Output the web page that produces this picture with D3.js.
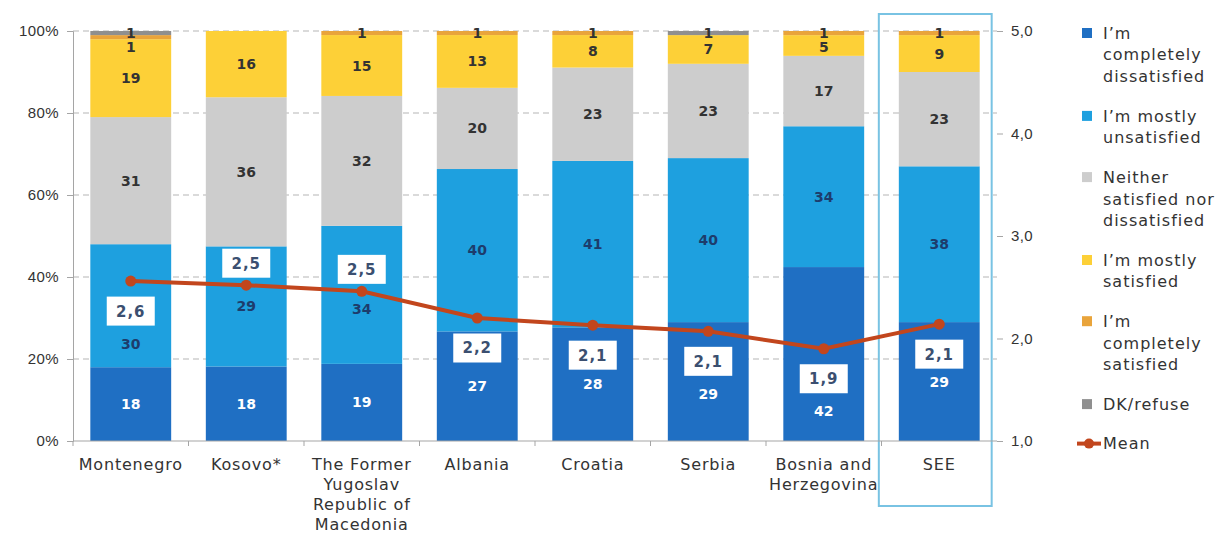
<!DOCTYPE html>
<meta charset="utf-8">
<style>
  body { margin: 0; background: #fff; }
  svg { font-family: "DejaVu Sans", sans-serif; }
  .tick text { fill: #333; font-size: 15px; letter-spacing: 0.4px; }
  .axis path, .axis line { stroke: #a5a5a5; }
  .grid line { stroke: #b5b5b5; stroke-dasharray: 6 4; }
  .seg-label { font-size: 14px; font-weight: bold; }
  .cat-label { fill: #333; font-size: 16px; letter-spacing: 0.8px; }
  .legend text { fill: #333; font-size: 16px; letter-spacing: 1px; }
  .mean-label { fill: #3b4f70; font-size: 15px; font-weight: bold; letter-spacing: 1px; }
</style>
<body>
<div id="chart"></div>
<script src="https://d3js.org/d3.v7.min.js"></script>
<script>
  // data (percentages, rounded as printed)
  var categories = ["Montenegro", "Kosovo*", "The Former\nYugoslav\nRepublic of\nMacedonia",
    "Albania", "Croatia", "Serbia", "Bosnia and\nHerzegovina", "SEE"];

  var seriesNames = ["I’m\ncompletely\ndissatisfied", "I’m mostly\nunsatisfied",
    "Neither\nsatisfied nor\ndissatisfied", "I’m mostly\nsatisfied",
    "I’m\ncompletely\nsatisfied", "DK/refuse"];

  var completelyDissatisfied = [18, 18, 19, 27, 28, 29, 42, 29];
  var mostlyUnsatisfied      = [30, 29, 34, 40, 41, 40, 34, 38];
  var neither                = [31, 36, 32, 20, 23, 23, 17, 23];
  var mostlySatisfied        = [19, 16, 15, 13, 8, 7, 5, 9];
  var completelySatisfied    = [1, 0, 1, 1, 1, 0, 1, 1];
  var dkRefuse               = [1, 0, 0, 0, 0, 1, 0, 0];

  var meanValues = [2.56, 2.52, 2.46, 2.2, 2.13, 2.07, 1.9, 2.14];
  var meanLabelSide = ["below", "above", "above", "below", "below", "below", "below", "below"];

  var leftTicks = [0, 0.2, 0.4, 0.6, 0.8, 1];
  var rightTicks = [1, 2, 3, 4, 5];

  var colors = ["#1f6fc3", "#1ea0df", "#cdcdcd", "#fdd037", "#e9a43b", "#8f8f8f"];
  var labelColors = ["#ffffff", "#1d3c6c", "#333333", "#333333", "#333333", "#333333"];
  var meanColor = "#c2461d";

  var seriesValues = [completelyDissatisfied, mostlyUnsatisfied, neither,
    mostlySatisfied, completelySatisfied, dkRefuse];

  // build rows for d3.stack
  var rows = categories.map(function(c, i) {
    var r = { cat: c };
    seriesValues.forEach(function(s, k) { r["s" + k] = s[i]; });
    return r;
  });
  var keys = seriesValues.map(function(s, k) { return "s" + k; });

  var width = 1218, height = 536;
  var plot = { left: 73, right: 997, top: 31, bottom: 441 };

  var svg = d3.select("#chart").append("svg")
    .attr("width", width)
    .attr("height", height);

  var x = d3.scaleBand()
    .domain(categories)
    .range([plot.left, plot.right])
    .paddingInner(0.3)
    .paddingOuter(0.15);

  var y = d3.scaleLinear().domain([0, 1]).range([plot.bottom, plot.top]);
  var yMean = d3.scaleLinear().domain([1, 5]).range([plot.bottom, plot.top]);

  var comma = d3.formatLocale({ decimal: ",", thousands: ".", grouping: [3], currency: ["", ""] });
  var fmt1 = comma.format(".1f");

  // gridlines
  svg.append("g").attr("class", "grid")
    .selectAll("line")
    .data(leftTicks.filter(function(d) { return d > 0; }))
    .join("line")
    .attr("x1", plot.left).attr("x2", plot.right)
    .attr("y1", function(d) { return y(d); })
    .attr("y2", function(d) { return y(d); });

  // stacked bars, normalised to 100%
  var stack = d3.stack().keys(keys).offset(d3.stackOffsetExpand);
  var stacked = stack(rows);

  var layers = svg.append("g").selectAll("g")
    .data(stacked)
    .join("g")
    .attr("fill", function(d, i) { return colors[i]; });

  layers.selectAll("rect")
    .data(function(d) { return d; })
    .join("rect")
    .attr("x", function(d) { return x(d.data.cat); })
    .attr("y", function(d) { return y(d[1]); })
    .attr("height", function(d) { return y(d[0]) - y(d[1]); })
    .attr("width", x.bandwidth());

  // highlight box around SEE
  var xs = x("SEE");
  svg.append("rect")
    .attr("x", xs - 20)
    .attr("y", 14)
    .attr("width", x.bandwidth() + 32)
    .attr("height", 492)
    .attr("fill", "none")
    .attr("stroke", "#79c3e3")
    .attr("stroke-width", 2);

  // left axis
  svg.append("g")
    .attr("class", "axis")
    .attr("transform", "translate(" + plot.left + ",0)")
    .call(d3.axisLeft(y).tickValues(leftTicks).tickSize(6).tickPadding(8)
      .tickFormat(function(d) { return Math.round(d * 100) + "%"; }));

  // right axis (mean)
  var ra = svg.append("g")
    .attr("class", "axis")
    .attr("transform", "translate(" + plot.right + ",0)")
    .call(d3.axisRight(yMean).tickValues(rightTicks).tickSize(6).tickPadding(8).tickFormat(fmt1));
  ra.select(".domain").remove();

  // x axis: line, ticks between categories, wrapped labels
  var xa = svg.append("g").attr("class", "axis");
  xa.append("line")
    .attr("x1", plot.left).attr("x2", plot.right)
    .attr("y1", plot.bottom).attr("y2", plot.bottom);
  xa.selectAll(".bnd")
    .data(d3.range(categories.length))
    .join("line")
    .attr("class", "bnd")
    .attr("x1", function(i) { return x(categories[i]) - x.step() * x.paddingInner() / 2; })
    .attr("x2", function(i) { return x(categories[i]) - x.step() * x.paddingInner() / 2; })
    .attr("y1", plot.bottom).attr("y2", plot.bottom + 5);

  svg.append("g").selectAll("text")
    .data(categories)
    .join("text")
    .attr("class", "cat-label")
    .attr("text-anchor", "middle")
    .attr("transform", function(d) { return "translate(" + (x(d) + x.bandwidth() / 2) + "," + 470 + ")"; })
    .selectAll("tspan")
    .data(function(d) { return d.split("\n"); })
    .join("tspan")
    .attr("x", 0)
    .attr("y", function(d, i) { return i * 20; })
    .text(function(d) { return d; });

  // mean line
  var cx = function(i) { return x(categories[i]) + x.bandwidth() / 2; };
  var line = d3.line()
    .x(function(d, i) { return cx(i); })
    .y(function(d) { return yMean(d); });

  svg.append("path")
    .datum(meanValues)
    .attr("fill", "none")
    .attr("stroke", meanColor)
    .attr("stroke-width", 4)
    .attr("d", line);

  svg.append("g").selectAll("circle")
    .data(meanValues)
    .join("circle")
    .attr("cx", function(d, i) { return cx(i); })
    .attr("cy", function(d) { return yMean(d); })
    .attr("r", 5.5)
    .attr("fill", meanColor);

  // mean label boxes
  var boxW = 48, boxH = 29;
  var boxes = meanValues.map(function(v, i) {
    var py = yMean(v);
    var cy = meanLabelSide[i] == "below" ? py + 30 : py - 22;
    return { v: v, i: i, py: py, cy: cy };
  });

  var mb = svg.append("g").selectAll("g")
    .data(boxes)
    .join("g")
    .attr("transform", function(d) { return "translate(" + cx(d.i) + "," + d.cy + ")"; });
  mb.append("rect")
    .attr("x", -boxW / 2).attr("y", -boxH / 2)
    .attr("width", boxW).attr("height", boxH)
    .attr("fill", "#fff");
  mb.append("text")
    .attr("class", "mean-label")
    .attr("text-anchor", "middle")
    .attr("dy", "0.36em")
    .text(function(d) { return fmt1(d.v); });

  // segment labels: centred, pushed apart at the top, moved clear of the mean box
  var labels = [];
  categories.forEach(function(c, i) {
    var prev = -Infinity;
    for (var k = stacked.length - 1; k >= 0; k--) {
      var seg = stacked[k][i];
      var v = seriesValues[k][i];
      if (!v) continue;
      var ly = y((seg[0] + seg[1]) / 2);
      ly = Math.max(ly, prev + 14);
      prev = ly;
      var b = boxes[i];
      if (Math.abs(ly - b.cy) < 25 || Math.abs(ly - b.py) < 12) {
        ly = Math.max(b.cy + boxH / 2, b.py) + 18;
      }
      labels.push({ x: cx(i), y: ly, v: v, k: k });
    }
  });

  svg.append("g").selectAll("text")
    .data(labels)
    .join("text")
    .attr("class", "seg-label")
    .attr("text-anchor", "middle")
    .attr("dy", "0.36em")
    .attr("x", function(d) { return d.x; })
    .attr("y", function(d) { return d.y; })
    .attr("fill", function(d) { return labelColors[d.k]; })
    .text(function(d) { return d.v; });

  // legend
  var legend = svg.append("g").attr("class", "legend");
  var ly0 = 33, lineH = 21.7, gap = 39.5;
  var items = seriesNames.map(function(n, k) { return { name: n, k: k }; });
  items.push({ name: "Mean", k: -1 });
  items.forEach(function(it) {
    var lines = it.name.split("\n");
    var g = legend.append("g").attr("transform", "translate(0," + ly0 + ")");
    if (it.k >= 0) {
      g.append("rect")
        .attr("x", 1082).attr("y", -5)
        .attr("width", 10).attr("height", 10)
        .attr("fill", colors[it.k]);
    } else {
      g.append("line")
        .attr("x1", 1077).attr("x2", 1101)
        .attr("y1", 0).attr("y2", 0)
        .attr("stroke", meanColor).attr("stroke-width", 4);
      g.append("circle").attr("cx", 1089).attr("cy", 0).attr("r", 5).attr("fill", meanColor);
    }
    g.append("text")
      .selectAll("tspan")
      .data(lines)
      .join("tspan")
      .attr("x", 1103)
      .attr("y", function(d, i) { return i * lineH; })
      .attr("dy", "0.36em")
      .text(function(d) { return d; });
    ly0 += (lines.length - 1) * lineH + gap;
  });
</script>
</body>
